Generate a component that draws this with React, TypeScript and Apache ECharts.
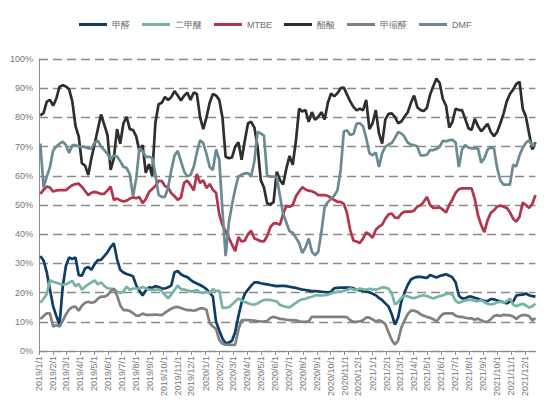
import React, { useEffect, useRef } from "react";
import * as echarts from "echarts";

// Axis: every day from 2019/1/1 to 2021/12/24, labels on the 1st of each month
const AXIS_START = [2019, 0, 1];
const AXIS_END = [2021, 11, 24];
// Weekly observations start on 2019/1/4
const FIRST_WEEK = [2019, 0, 4];

const seriesNames = ["甲醛", "二甲醚", "MTBE", "醋酸", "甲缩醛", "DMF"];
const seriesColors = ["#0e3d66", "#74b5a4", "#b3344c", "#2e2e2e", "#808080", "#6a8a94"];
const yTicks = [0, 10, 20, 30, 40, 50, 60, 70, 80, 90, 100];

const formaldehyde = [
  32.5, 31, 27, 21, 15.3, 12, 9, 22, 29.2, 32, 31.5, 32, 26, 25.8, 28.3, 28.8, 27.8, 29.8, 31.1, 31.2,
  32.5, 33.8, 35.6, 36.9, 31.5, 27.8, 26.9, 26.4, 26, 25.6, 22.5, 20.6, 19, 20.7, 21.8, 21.6, 22.2, 21.9, 21.4, 21.4,
  21.8, 22.5, 27, 27.4, 26.3, 25.7, 25.3, 24.4, 23.6, 23.1, 22.6, 22, 21.2, 19.9, 18.7, 10, 7, 4.3, 2.6, 2.9,
  3.5, 6.5, 12, 16.6, 19.6, 21, 22.4, 23.5, 23.5, 23.2, 23, 22.8, 22.6, 22.4, 22.2, 22.3, 22.3, 22.2, 22, 21.8,
  21.6, 21.3, 21, 20.9, 20.7, 20.5, 20.5, 20.4, 20.3, 20.2, 20.1, 20.3, 21.5, 21.6, 21.7, 21.7, 21.7, 21.7, 21.5, 20.9,
  20.8, 20.6, 20.4, 20.1, 19.6, 19.1, 18.2, 17.4, 16.3, 15.2, 12.6, 9, 11.5, 17, 20, 22.6, 24.5, 25.1, 25.4, 25.4,
  25.2, 25, 26, 25.6, 25.2, 25.7, 26, 26.3, 25.8, 25.2, 23.5, 19, 18, 18, 18.6, 18.6, 18.2, 17.9, 17.5, 17.2,
  17.1, 17.8, 17.7, 17.3, 17, 16.7, 16.3, 16.9, 16.9, 19, 19.2, 19.3, 19.7, 19.1, 18.8, 18.6,
];

const dme = [
  16.5, 17.9, 19.5, 24.2, 23.7, 23.4, 23, 22.7, 22.9, 23.4, 24, 22.2, 23, 21, 22, 22.8, 23.5, 24.2, 22.8, 23.5,
  22.3, 21.5, 21.4, 21, 20.4, 19.8, 20.4, 22, 21, 21.4, 21.4, 21.4, 21.9, 21.5, 21, 20.9, 20.9, 21.2, 20.6, 19.2,
  18, 19.4, 20.9, 22.4, 21.2, 21, 20.8, 20.4, 20.5, 20.9, 20.1, 19.9, 20.3, 19.8, 21.2, 20.5, 20.7, 14.8, 14.8, 15,
  15.9, 17, 18, 17.3, 16.8, 16.4, 16, 15.9, 16.3, 17, 17.5, 17.5, 17.5, 17.2, 17, 15.8, 15.4, 15.1, 14.9, 15.7,
  16.5, 17.3, 17.7, 17.9, 18.3, 18.6, 19, 19.1, 19, 19.1, 19.3, 19.7, 20.1, 20.3, 20.3, 20.6, 20.9, 21.4, 21, 21,
  21.4, 21.1, 21, 21.3, 21.1, 21, 21.3, 21.8, 21.7, 21.3, 19.8, 15.9, 16.8, 18.2, 19, 18.7, 18.3, 18.1, 18.5, 18.9,
  19.1, 18.8, 18.4, 18, 18.4, 18.8, 19.1, 19.5, 19.7, 19.3, 17.2, 16.5, 16.9, 17.3, 17.5, 17.5, 17.1, 17.1, 17.4, 16.8,
  16.2, 15.9, 16.2, 16.6, 16.9, 16.5, 17.1, 18, 15.9, 15.3, 15.8, 16.2, 15.6, 14.8, 15.3, 16.2,
];

const mtbe = [
  53.8, 55.2, 56.3, 56, 54.6, 55, 55.1, 55.1, 55.1, 56, 56.8, 57.2, 57.3, 56.2, 54.8, 53.4, 54.2, 54.5, 54.2, 53.8,
  53.8, 55, 56.3, 51.7, 52.2, 51.6, 51.2, 51.5, 52.2, 52.6, 52.3, 52.7, 50.6, 52, 54.4, 55.5, 56.5, 58.3, 58.2, 56.5,
  56, 54, 53, 51.8, 52.5, 57.6, 58.4, 56.8, 55, 60.6, 57.5, 58.5, 55.8, 57.2, 55.2, 54.2, 46.8, 43.1, 41, 38.8,
  36.4, 34.2, 39, 37.5, 37.8, 40, 41.2, 38.5, 38.1, 37.6, 37.5, 39.4, 42.4, 43.7, 43.7, 43.2, 47, 49.7, 49.4, 50,
  53, 54.6, 56.1, 55.3, 54.9, 54.7, 54.2, 53.4, 53.4, 53.4, 53.1, 52.4, 51.7, 51.1, 51.1, 50.4, 47.2, 41.4, 37.8, 37.5,
  37, 38.5, 40.6, 39.9, 38.8, 41.5, 42.6, 43.3, 45.3, 46.8, 47.1, 45.7, 45.6, 47, 47.7, 47.7, 47.7, 48.1, 49.5, 49.9,
  51.1, 52.7, 50, 49, 49, 49.2, 48.4, 47.4, 50, 51.9, 54.2, 55.4, 55.7, 55.7, 55.7, 55.7, 52, 46.5, 43.1, 40.7,
  44.8, 47.3, 48.2, 49.5, 49.8, 49.4, 49, 47.5, 45.3, 44.3, 46, 50.8, 50, 49, 50.4, 53.4,
];

const aceticAcid = [
  80.7, 81.5, 85.4, 86, 84, 86.5, 90.5, 91, 90.6, 89.6, 85.5, 77, 73.5, 64.3, 63.5, 60.3, 66.2, 71, 76, 81,
  77.5, 74, 62, 66, 76, 71, 78, 80.2, 76, 75.7, 73.5, 68.5, 70.5, 61, 64, 60, 78, 84.5, 85, 87,
  86, 87, 89, 87.5, 85.8, 87.4, 88.5, 86, 88.5, 88, 80, 76, 80, 85, 88, 87.5, 86, 80, 66.5, 66,
  66.3, 70, 71.5, 65.5, 72, 78, 78.5, 76.5, 70, 58.5, 56, 50.5, 50.2, 51, 61.4, 58.6, 57, 62.5, 66.8, 63.8,
  72, 83, 82, 82.5, 78.5, 81.8, 79.2, 80.2, 81.8, 79.3, 85, 88.2, 87.2, 88.3, 90, 90.2, 87.8, 85.5, 83.6, 82.4,
  83, 82.4, 86, 76, 78, 82.5, 74.5, 71, 79.3, 81.2, 81.4, 80.2, 78, 78.6, 80.3, 81.7, 85, 87.5, 83.5, 82.5,
  82.2, 83.2, 87.8, 90.7, 93.3, 91.8, 86.3, 84, 76.5, 78.5, 83, 82.5, 82.5, 79.5, 76.3, 75.7, 79.5, 77, 75.2, 76.5,
  77.8, 75, 73.6, 75, 78, 81.3, 85.5, 88, 89.5, 91.5, 92.2, 83, 80.2, 74.5, 69, 71.5,
];

const methylal = [
  10.9, 12, 12.9, 12.9, 8.4, 8.8, 8.4, 10.3, 12.5, 14.2, 15, 15.2, 13.8, 15.5, 16.5, 16.9, 16.5, 16.8, 17.9, 18.6,
  18.6, 19.1, 20.4, 21.4, 19, 15.7, 14, 14, 13.7, 13, 12.1, 12.1, 12.8, 12.4, 12.4, 12.4, 12.5, 12.4, 12.3, 13.1,
  13.8, 14.5, 15, 15.1, 14.7, 14.3, 14, 14, 13.8, 14.1, 14.6, 14.6, 14.1, 9.6, 8.4, 7.6, 3.8, 2.5, 2.2, 2.1,
  2.1, 2.2, 7.3, 10.5, 10.6, 10.6, 10.5, 10.4, 10.2, 10.1, 10.1, 10.3, 11.3, 11.7, 11.4, 11, 10.9, 10.7, 10.6, 10.6,
  10.5, 10.2, 10, 10, 10.2, 11.7, 11.7, 11.7, 11.7, 11.7, 11.7, 11.7, 11.7, 11.7, 11.7, 11.7, 11.6, 10.5, 10, 10,
  10.2, 10.5, 11.5, 11.4, 10.8, 10.1, 10.5, 10.1, 9.2, 6.4, 3.8, 2.2, 3.6, 8, 10.5, 12.6, 13.8, 13.8, 13.4, 12.6,
  12.1, 11.7, 11.4, 10.9, 10.1, 11.5, 12.7, 12.9, 12.9, 12.9, 12.1, 11.7, 11.7, 11.4, 11.2, 11.2, 10.7, 11.1, 10.5, 10,
  10, 10.9, 12, 12.3, 12, 12.4, 12.3, 12.2, 11.8, 11, 11.9, 12.3, 12.3, 11.9, 10.5, 11.3,
];

const dmf = [
  71, 56, 59.7, 63, 68.7, 70, 71, 71.7, 70.5, 67.8, 70.5, 70.5, 70, 70, 69.8, 69.4, 69.4, 71.4, 72, 70,
  68.8, 67.5, 65.6, 67, 66.6, 65, 63.1, 62.7, 60.5, 53, 59, 69.5, 68.4, 66.5, 66.5, 66.2, 60.5, 53.5, 52.8, 52.8,
  56, 62, 67, 68.5, 65, 61.5, 59.8, 60.3, 63, 68, 72.2, 71.2, 67.5, 63, 62, 69, 65.5, 48, 32.5, 44,
  50.2, 55.5, 59.7, 60.4, 60.8, 60.8, 60, 65, 75, 74.5, 73.7, 60, 59.7, 59.7, 59.7, 53, 47, 44, 41, 40.5,
  38.8, 37, 33.5, 35.5, 38.5, 34, 32.8, 34, 41, 49.3, 51, 52.1, 53.2, 55, 62, 75.2, 75.6, 74, 74.3, 77.9,
  78, 77, 73, 67.8, 67, 68, 63, 67.8, 70, 70.7, 71.2, 73, 75, 74.5, 73.3, 71.4, 70.7, 70.5, 70, 67,
  67, 67.2, 68.8, 68.8, 69.2, 70, 72, 71.8, 72.2, 72.3, 71.4, 63, 69, 70.5, 69.7, 69.4, 69.4, 69.4, 64.5, 66,
  69, 69.7, 69.4, 62.6, 58.4, 57, 57, 57, 63.8, 63.2, 67, 69.6, 71.3, 72.2, 70.2, 71,
];

const seriesValues = [formaldehyde, dme, mtbe, aceticAcid, methylal, dmf];

const fmt = (d: Date) => `${d.getFullYear()}/${d.getMonth() + 1}/${d.getDate()}`;

function dayRange(start: number[], end: number[], step: number): string[] {
  const out: string[] = [];
  const d = new Date(start[0], start[1], start[2], 12);
  const e = new Date(end[0], end[1], end[2], 12);
  while (d.getTime() <= e.getTime()) {
    out.push(fmt(d));
    d.setDate(d.getDate() + step);
  }
  return out;
}

const axisDays = dayRange(AXIS_START, AXIS_END, 1);
const weekDates = dayRange(FIRST_WEEK, AXIS_END, 7);

const isMonthStart = (_i: number, v: string) => String(v).split("/")[2] === "1";

export default function App() {
  const ref = useRef<HTMLDivElement>(null);
  useEffect(() => {
    if (!ref.current) return;
    const chart = echarts.init(ref.current, null, { renderer: "svg" });
    const font = "'Liberation Sans', Arial, sans-serif";
    chart.setOption({
      animation: false,
      backgroundColor: "#ffffff",
      legend: {
        top: 15,
        left: 74,
        icon: "rect",
        itemWidth: 28,
        itemHeight: 3,
        itemGap: 12,
        textStyle: { fontSize: 9, color: "#6e6e6e", fontFamily: font },
        data: seriesNames,
      },
      grid: { left: 39, right: 14.5, top: 59, bottom: 54, outerBoundsMode: "none" },
      xAxis: {
        type: "category",
        data: axisDays,
        boundaryGap: false,
        axisLine: { lineStyle: { color: "#8c8c8c", width: 1 } },
        axisTick: { interval: isMonthStart, length: 4, lineStyle: { color: "#8c8c8c" } },
        axisLabel: {
          interval: isMonthStart,
          rotate: 90,
          fontSize: 9,
          color: "#777777",
          fontFamily: font,
          margin: 5,
        },
        splitLine: { show: false },
      },
      yAxis: {
        type: "value",
        min: 0,
        max: 100,
        interval: 10,
        axisLine: { show: true, lineStyle: { color: "#8c8c8c", width: 1 } },
        axisTick: { show: false },
        axisLabel: {
          formatter: (v: number) => (yTicks.includes(v) ? `${v}%` : ""),
          fontSize: 9,
          color: "#777777",
          fontFamily: font,
          margin: 6,
        },
        splitLine: { lineStyle: { color: "#8a8a8a", type: [9, 5], width: 1.3 } },
      },
      series: seriesNames.map((name, si) => ({
        name,
        type: "line",
        showSymbol: false,
        symbol: "none",
        color: seriesColors[si],
        lineStyle: { width: 2.7, color: seriesColors[si] },
        data: weekDates.map((d, i) => [d, seriesValues[si][i]]),
      })),
    });
    return () => chart.dispose();
  }, []);
  return (
    <div
      ref={ref}
      style={{ position: "fixed", left: 0, top: 0, width: 550, height: 405, background: "#fff" }}
    />
  );
}
